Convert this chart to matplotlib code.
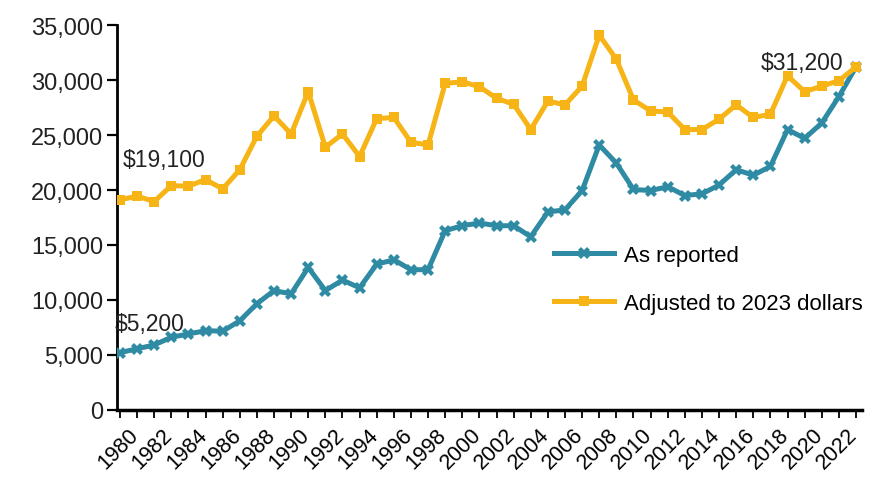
import matplotlib.pyplot as plt
import matplotlib.transforms as mtransforms
from matplotlib.ticker import FuncFormatter, MultipleLocator

plt.rcParams["font.family"] = ["Liberation Sans", "DejaVu Sans"]

years = list(range(1980, 2024))

as_reported = [
    5200, 5550, 5900, 6600, 6900, 7200, 7150, 8100, 9650, 10850,
    10550, 12950, 10850, 11800, 11100, 13250, 13650, 12750, 12750, 16300,
    16750, 17000, 16750, 16750, 15750, 18000, 18200, 19950, 24100, 22450,
    20050, 19950, 20300, 19500, 19650, 20450, 21850, 21350, 22150, 25500,
    24700, 26100, 28500, 31200,
]

adjusted = [
    19100, 19450, 18950, 20400, 20350, 20950, 20100, 21850, 24900, 26750,
    25100, 28950, 23900, 25100, 23050, 26500, 26600, 24350, 24100, 29700,
    29850, 29400, 28350, 27800, 25500, 28100, 27750, 29450, 34100, 31900,
    28200, 27200, 27100, 25500, 25500, 26450, 27750, 26600, 26900, 30400,
    28950, 29450, 29950, 31200,
]

blue = "#2f8aa3"
gold = "#f6b416"

fig = plt.figure(figsize=(8.76, 4.85), dpi=100)
ax = fig.add_axes([0.134, 0.153, 0.850, 0.793])

ax.plot(years, as_reported, color=blue, linewidth=3.6, marker="X",
        markersize=8, markeredgewidth=0, label="As reported", zorder=3)
ax.plot(years, adjusted, color=gold, linewidth=3.6, marker="s",
        markersize=7.5, markeredgewidth=0, label="Adjusted to 2023 dollars",
        zorder=3)

# value callouts at the start and end of the series
ax.annotate(f"${adjusted[0]:,}", (years[0], adjusted[0]), xytext=(2, 21),
            textcoords="offset points", fontsize=16.5, ha="left",
            va="bottom", color="#222222")
ax.annotate(f"${as_reported[0]:,}", (years[0], as_reported[0]),
            xytext=(-4, 13), textcoords="offset points", fontsize=16.5,
            ha="left", va="bottom", color="#222222")
ax.annotate(f"${adjusted[-1]:,}", (years[-1], adjusted[-1]),
            xytext=(-9, -5), textcoords="offset points", fontsize=16.5,
            ha="right", va="bottom", color="#222222")

ax.set_xlim(1979.85, 2023.35)
ax.set_ylim(0, 35000)
ax.yaxis.set_major_locator(MultipleLocator(5000))
ax.yaxis.set_major_formatter(FuncFormatter(lambda v, _: f"{v:,.0f}"))
ax.tick_params(axis="y", labelsize=17, length=7, width=1.6,
               direction="out", pad=3, labelcolor="#222222")

ax.set_xticks(years)
ax.set_xticklabels([str(y) if y % 2 == 0 else "" for y in years],
                   rotation=45, ha="right", rotation_mode="anchor",
                   fontsize=15.5)
ax.tick_params(axis="x", length=6, width=1.3, direction="out", pad=4)
shift = mtransforms.ScaledTranslation(8 / 100, 0, fig.dpi_scale_trans)
for lbl in ax.get_xticklabels():
    lbl.set_transform(lbl.get_transform() + shift)

for side in ("top", "right"):
    ax.spines[side].set_visible(False)
ax.spines["left"].set_linewidth(2)
ax.spines["bottom"].set_linewidth(2.5)

ax.legend(loc="upper left", bbox_to_anchor=(0.56, 0.48), frameon=False,
          fontsize=16, handlelength=2.7, handletextpad=0.45,
          labelspacing=1.2)

fig.savefig("out.png", dpi=100)
